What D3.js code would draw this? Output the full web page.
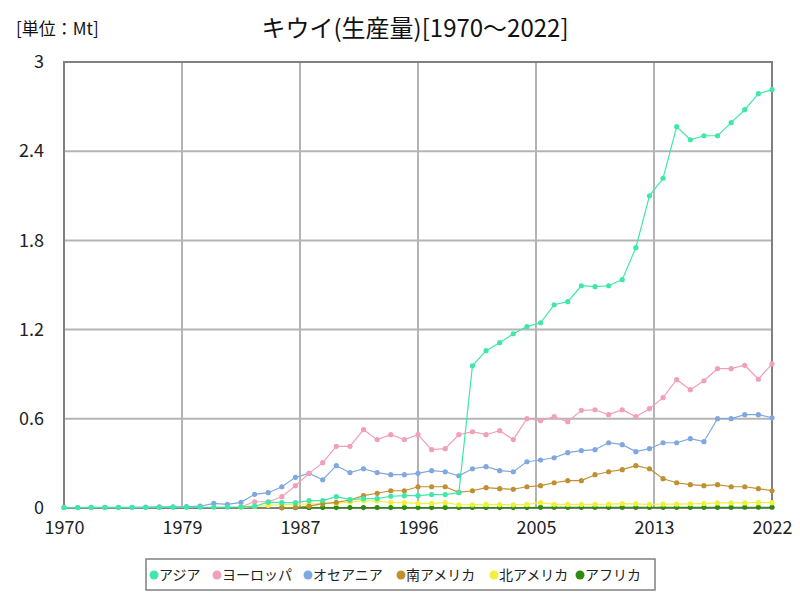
<!DOCTYPE html>
<html><head><meta charset="utf-8">
<script src="https://cdn.jsdelivr.net/npm/d3@7"></script>
<style>body{margin:0;background:#fff}svg{display:block}text{font-family:"Noto Sans CJK JP","Noto Sans",sans-serif}</style>
</head><body><svg id="c" width="800" height="600"></svg>
<script>
const years = d3.range(1970, 2023);
const seriesNames = ["アジア","ヨーロッパ","オセアニア","南アメリカ","北アメリカ","アフリカ"];
const seriesColors = ["#40e8a8","#f0a0b8","#80a8e0","#c09030","#f0f040","#2e8b10"];
const N = null;
const asia = [0.002,0.002,0.002,0.003,0.003,0.003,0.003,0.004,0.004,0.004,0.005,0.005,0.006,0.007,
 0.012,0.04,0.036,0.036,0.05,0.05,0.076,0.056,0.063,0.063,0.079,0.083,0.083,0.09,0.09,0.103,
 0.957,1.058,1.112,1.172,1.22,1.246,1.367,1.388,1.495,1.489,1.495,1.536,1.751,2.10,2.218,2.565,2.477,2.504,2.504,2.592,2.679,2.787,2.814];
const europe = [N,N,N,N,N,N,N,N,N,N,N,N,N,0.008,
 0.042,0.042,0.076,0.15,0.233,0.305,0.415,0.415,0.527,0.46,0.493,0.46,0.493,0.392,0.399,0.493,
 0.513,0.493,0.52,0.46,0.601,0.587,0.614,0.58,0.657,0.661,0.628,0.661,0.614,0.668,0.742,0.863,0.796,0.856,0.937,0.937,0.96,0.866,0.969];
const oceania = [0.003,0.003,0.004,0.004,0.005,0.005,0.006,0.007,0.008,0.01,0.012,0.031,0.025,0.038,
 0.092,0.103,0.143,0.206,0.233,0.19,0.285,0.238,0.264,0.238,0.224,0.224,0.233,0.251,0.244,0.217,
 0.264,0.278,0.251,0.244,0.311,0.323,0.338,0.372,0.386,0.392,0.439,0.426,0.379,0.399,0.439,0.439,0.466,0.446,0.601,0.601,0.628,0.628,0.607];
const southAmerica = [N,N,N,N,N,N,N,N,N,N,N,N,N,N,
 N,N,0.002,0.005,0.013,0.029,0.038,0.054,0.083,0.099,0.116,0.116,0.143,0.143,0.143,0.105,
 0.116,0.137,0.13,0.126,0.143,0.15,0.17,0.184,0.184,0.224,0.244,0.258,0.285,0.264,0.197,0.17,0.157,0.15,0.157,0.143,0.143,0.13,0.116];
const northAmerica = [N,N,N,N,N,N,N,N,N,N,N,N,N,0.004,
 0.01,0.018,0.022,0.024,0.027,0.029,0.032,0.04,0.049,0.047,0.038,0.036,0.031,0.031,0.036,0.022,
 0.022,0.024,0.023,0.022,0.024,0.036,0.025,0.024,0.024,0.025,0.026,0.03,0.028,0.024,0.026,0.026,0.028,0.03,0.034,0.034,0.034,0.036,0.036];
const africa = [N,N,N,N,N,N,N,N,N,N,N,N,N,N,
 N,N,0.001,0.002,0.002,0.003,0.003,0.003,0.003,0.003,0.003,0.003,0.003,0.003,0.003,0.003,
 0.003,0.003,0.003,0.003,0.003,0.004,0.004,0.004,0.004,0.004,0.004,0.004,0.004,0.004,0.004,0.004,0.004,0.004,0.004,0.004,0.005,0.005,0.005];
const seriesValues = [asia, europe, oceania, southAmerica, northAmerica, africa];
const yTicks = [0, 0.6, 1.2, 1.8, 2.4, 3];
const xTicks = d3.range(7).map(i => 1970 + i * 52 / 6);

const svg = d3.select("#c");
const L = 64, R = 772, T = 62, B = 508;
const x = d3.scaleLinear().domain([1970, 2022]).range([L, R]);
const y = d3.scaleLinear().domain([0, 3]).range([B, T]);

// grid
svg.append("g").selectAll("line.v").data(xTicks).join("line")
  .attr("x1", d => x(d)).attr("x2", d => x(d)).attr("y1", T).attr("y2", B)
  .attr("stroke", "#b4b4b4").attr("stroke-width", 2);
svg.append("g").selectAll("line.h").data(yTicks).join("line")
  .attr("x1", L).attr("x2", R).attr("y1", d => y(d)).attr("y2", d => y(d))
  .attr("stroke", "#b4b4b4").attr("stroke-width", 2);
svg.append("rect").attr("x", L).attr("y", T).attr("width", R - L).attr("height", B - T)
  .attr("fill", "none").attr("stroke", "#808080").attr("stroke-width", 2);

// axes
const yAxis = d3.axisLeft(y).tickValues(yTicks).tickSize(0).tickPadding(20).tickFormat(d => String(d));
const gy = svg.append("g").attr("transform", `translate(${L},0)`).call(yAxis);
gy.select(".domain").remove();
gy.selectAll("text").attr("font-size", 18).attr("fill", "#222");
const xAxis = d3.axisBottom(x).tickValues(xTicks).tickSize(0).tickPadding(13).tickFormat(d => String(Math.round(d)));
const gx = svg.append("g").attr("transform", `translate(0,${B})`).call(xAxis);
gx.select(".domain").remove();
gx.selectAll("text").attr("font-size", 18).attr("fill", "#222");

// series (drawn in reverse so Asia is on top)
const line = d3.line().defined(d => d.v != null).x(d => x(d.yr)).y(d => y(d.v));
for (let i = seriesNames.length - 1; i >= 0; i--) {
  const pts = years.map((yr, j) => ({yr, v: seriesValues[i][j]}));
  const g = svg.append("g");
  g.append("path").datum(pts).attr("d", line).attr("fill", "none")
    .attr("stroke", seriesColors[i]).attr("stroke-width", 1.2);
  g.selectAll("circle").data(pts.filter(d => d.v != null)).join("circle")
    .attr("cx", d => x(d.yr)).attr("cy", d => y(d.v)).attr("r", 2.6)
    .attr("fill", seriesColors[i]);
}

// title
svg.append("text").attr("x", 415).attr("y", 37).attr("text-anchor", "middle")
  .attr("font-size", 24).attr("fill", "#111").text("キウイ(生産量)[1970～2022]");
svg.append("text").attr("x", 16).attr("y", 35).attr("font-size", 17).attr("fill", "#111").text("[単位：Mt]");

// legend
const lg = svg.append("g");
lg.append("rect").attr("x", 146).attr("y", 559).attr("width", 509).attr("height", 31)
  .attr("fill", "#fff").attr("stroke", "#808080").attr("stroke-width", 1.5);
const legX = [154, 217, 308, 401, 494, 580];
seriesNames.forEach((n, i) => {
  lg.append("circle").attr("cx", legX[i]).attr("cy", 575).attr("r", 4.5).attr("fill", seriesColors[i]);
  lg.append("text").attr("x", legX[i] + 5).attr("y", 580).attr("font-size", 14).attr("fill", "#222").text(n);
});
</script></body></html>
